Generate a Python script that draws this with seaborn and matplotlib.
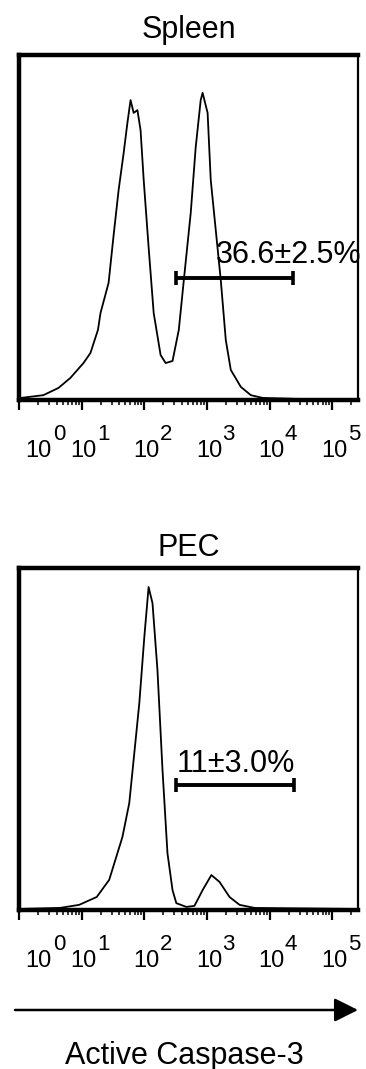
import numpy as np
import pandas as pd
import matplotlib
matplotlib.use("Agg")
import matplotlib.pyplot as plt
import matplotlib.transforms as mtransforms
from matplotlib.patches import FancyArrowPatch
from matplotlib.ticker import NullFormatter, FixedLocator
import seaborn as sns

# ---------------- data ----------------
panel_titles = ["Spleen", "PEC"]

spleen_intensity = [1.07, 2.45, 4.27, 6.61, 10.7, 13.8, 18.2, 20.0, 26.9, 32.4,
                    38.9, 46.8, 53.7, 60.3, 67.6, 77.6, 87.1, 97.7, 117, 141,
                    182, 219, 282, 355, 427, 550, 661, 794, 851, 1023,
                    1148, 1380, 1660, 1995, 2399, 3467, 5012, 7762, 30903, 251189]
spleen_count = [0.6, 1.4, 3.5, 6.4, 10.7, 13.6, 20.3, 25.2, 33.9, 47.8,
                60.8, 71.5, 80.2, 86.8, 83.1, 83.9, 78.1, 63.7, 44.3, 25.2,
                13.0, 10.7, 11.3, 20.3, 34.7, 54.1, 73.2, 86.8, 88.9, 83.1,
                63.7, 49.2, 34.7, 17.4, 8.7, 3.8, 1.4, 0.6, 0.3, 0.3]

pec_intensity = [1.02, 4.47, 9.12, 17.4, 27.5, 44.7, 57.5, 69.2, 83.2, 100,
                 117, 135, 162, 195, 234, 282, 324, 468, 631, 851,
                 1175, 1585, 2291, 3311, 5754, 239883]
pec_count = [0.3, 0.6, 1.5, 3.8, 8.8, 21.3, 31.2, 45.8, 60.4, 79.7,
             94.3, 89.6, 70.1, 40.9, 16.6, 5.8, 2.0, 0.9, 1.2, 5.8,
             10.2, 8.2, 3.8, 1.5, 0.6, 0.3]

gate_labels = ["36.6\u00b12.5%", "11\u00b13.0%"]
spleen_gate = [316, 24000]
pec_gate = [324, 24500]
gate_levels = [35.3, 36.5]

tick_values = [1, 10, 100, 1000, 10000, 100000]
tick_bases = ["10", "10", "10", "10", "10", "10"]
tick_exponents = ["0", "1", "2", "3", "4", "5"]
minor_multipliers = [2, 3, 4, 5, 6, 7, 8, 9]
x_label = "Active Caspase-3"

# ---------------- style ----------------
sns.set_theme(style="ticks")
plt.rcParams["font.family"] = ["Liberation Sans", "DejaVu Sans"]

W, H = 366, 1069
fig = plt.figure(figsize=(W / 100, H / 100), dpi=100)
fig.patch.set_facecolor("white")
PT = 72 / 100  # points per pixel


def fx(px):
    return px / W


def fy(py):
    return 1 - py / H


minor_ticks = [m * t for t in tick_values[:-1] for m in minor_multipliers] + [200000]

left, right = 19, 358
panels = [
    dict(title=panel_titles[0], x=spleen_intensity, y=spleen_count, gate=spleen_gate,
         glevel=gate_levels[0], glabel=gate_labels[0], top=54.5, bottom=400,
         label_pos=(1380, 39.7), pad=12.0),
    dict(title=panel_titles[1], x=pec_intensity, y=pec_count, gate=pec_gate,
         glevel=gate_levels[1], glabel=gate_labels[1], top=567.5, bottom=910,
         label_pos=(324, 40.3), pad=8.3),
]

for p in panels:
    ax = fig.add_axes([fx(left), fy(p["bottom"]), fx(right) - fx(left),
                       fy(p["top"]) - fy(p["bottom"])])
    df = pd.DataFrame({"intensity": p["x"], "count": p["y"]})
    sns.lineplot(data=df, x="intensity", y="count", ax=ax, color="black",
                 linewidth=1.3, sort=True)
    ax.set_xscale("log")
    ax.set_xlim(1, 10 ** 5.41)
    ax.set_ylim(0, 100)
    ax.set_xlabel("")
    ax.set_ylabel("")
    ax.set_facecolor("white")

    # gate bar
    ax.plot(p["gate"], [p["glevel"], p["glevel"]], color="black", lw=2.8,
            marker="|", ms=10, mew=2.6, solid_capstyle="butt")
    ax.text(p["label_pos"][0], p["label_pos"][1], p["glabel"], ha="left",
            va="baseline", fontsize=22, color="black", clip_on=False)

    # spines
    for side in ["top", "left", "bottom"]:
        ax.spines[side].set_linewidth(3.2)
        ax.spines[side].set_color("black")
    ax.spines["right"].set_linewidth(1.6)
    ax.spines["right"].set_color("black")

    # ticks
    ax.tick_params(axis="y", which="both", left=False, labelleft=False)
    ax.xaxis.set_major_locator(FixedLocator(tick_values))
    ax.xaxis.set_minor_locator(FixedLocator(minor_ticks))
    ax.xaxis.set_minor_formatter(NullFormatter())
    ax.set_xticklabels(tick_bases)
    ax.tick_params(axis="x", which="major", direction="out", length=7, width=1.6,
                   labelsize=17, pad=22, colors="black", bottom=True)
    ax.tick_params(axis="x", which="minor", direction="out", length=3.5, width=1.1,
                   colors="black", bottom=True)
    labels = ax.get_xticklabels()
    shift = mtransforms.ScaledTranslation(19.5 / 100, 0, fig.dpi_scale_trans)
    small = mtransforms.ScaledTranslation(2 / 100, 0, fig.dpi_scale_trans)
    for i, lab in enumerate(labels):
        lab.set_transform(lab.get_transform() + (shift if i == 0 else small))

    for i, (v, e) in enumerate(zip(tick_values, tick_exponents)):
        dx = (40 if i == 0 else 21.5) * PT
        ax.annotate(e, xy=(v, 0), xycoords=("data", "axes fraction"),
                    xytext=(dx, -35 * PT), textcoords="offset points",
                    ha="center", va="center", fontsize=16, color="black",
                    annotation_clip=False)

    ax.set_title(p["title"], fontsize=22, pad=p["pad"], color="black")

# arrow and axis label
arrow = FancyArrowPatch((fx(15), fy(1010)), (fx(358), fy(1010)),
                        transform=fig.transFigure,
                        arrowstyle="-|>,head_length=1.0,head_width=0.5",
                        mutation_scale=14.4, lw=1.8, color="black",
                        shrinkA=0, shrinkB=0)
fig.add_artist(arrow)
fig.text(fx(184), fy(1064), x_label, ha="center", va="baseline", fontsize=22,
         color="black")

fig.savefig("out.png", dpi=100, facecolor="white")
